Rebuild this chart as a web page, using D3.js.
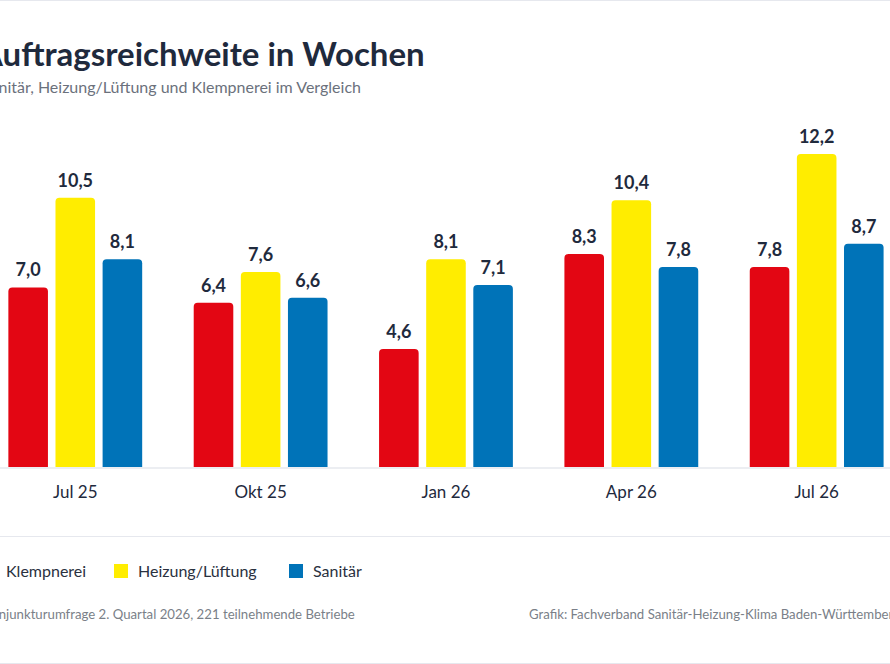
<!DOCTYPE html>
<html><head><meta charset="utf-8">
<script src="https://cdn.jsdelivr.net/npm/d3@7"></script>
<style>
html,body{margin:0;padding:0;background:#fff;overflow:hidden}
svg{display:block;font-family:Lato,"Noto Sans",sans-serif}
</style></head>
<body>
<svg id="c" width="890" height="664"></svg>
<script>
const categories = ["Jul 25","Okt 25","Jan 26","Apr 26","Jul 26"];
const seriesNames = ["Klempnerei","Heizung/Lüftung","Sanitär"];
const klempnerei = [7.0,6.4,4.6,8.3,7.8];
const heizung = [10.5,7.6,8.1,10.4,12.2];
const sanitaer = [8.1,6.6,7.1,7.8,8.7];
const seriesColors = ["#e30613","#ffed00","#0073b8"];
const title = "Auftragsreichweite in Wochen";
const subtitle = "Sanitär, Heizung/Lüftung und Klempnerei im Vergleich";
const sourceLeft = "Konjunkturumfrage 2. Quartal 2026, 221 teilnehmende Betriebe";
const sourceRight = "Grafik: Fachverband Sanitär-Heizung-Klima Baden-Württemberg";

const values = [klempnerei, heizung, sanitaer];
const svg = d3.select("#c");
const W = 890, H = 664;
const dark = "#1f2a3d";

// frame lines
[0.5, 536.5, 663.5].forEach(y => svg.append("line").attr("x1",0).attr("x2",W).attr("y1",y).attr("y2",y).attr("stroke","#e6e8ee").attr("stroke-width",1.2));

svg.append("text").attr("x",-20).attr("y",66).attr("font-size",33).attr("font-weight",700).attr("fill",dark).text(title);
svg.append("text").attr("x",-18).attr("y",93).attr("font-size",16).attr("fill","#6b717c").text(subtitle);

const x0 = d3.scaleBand().domain(categories).range([-17.4, -17.4 + 5*185.35]).paddingInner(0.278).paddingOuter(0.139);
const x1 = d3.scaleBand().domain(seriesNames).range([0, x0.bandwidth()]).paddingInner(0.16).paddingOuter(0);
const y = d3.scaleLinear().domain([0,13]).range([467, 467 - 13*25.65]);

svg.append("line").attr("x1",0).attr("x2",W).attr("y1",y(0)+1).attr("y2",y(0)+1).attr("stroke","#e6e8ee").attr("stroke-width",1.5);

function topRounded(x, yt, w, h, r){
  r = Math.min(r, h, w/2);
  return `M${x},${yt+h}V${yt+r}Q${x},${yt} ${x+r},${yt}H${x+w-r}Q${x+w},${yt} ${x+w},${yt+r}V${yt+h}Z`;
}

const data = [];
categories.forEach((c,i) => seriesNames.forEach((s,j) => data.push({c, s, j, v: values[j][i]})));

const g = svg.append("g");
g.selectAll("path.bar").data(data).join("path").attr("class","bar")
  .attr("d", d => topRounded(x0(d.c)+x1(d.s), y(d.v), x1.bandwidth(), y(0)-y(d.v), 4))
  .attr("fill", d => seriesColors[d.j]);

g.selectAll("text.val").data(data).join("text").attr("class","val")
  .attr("x", d => x0(d.c)+x1(d.s)+x1.bandwidth()/2)
  .attr("y", d => y(d.v)-11)
  .attr("text-anchor","middle").attr("font-size",18).attr("font-weight",700).attr("fill",dark)
  .text(d => d3.format(".1f")(d.v).replace(".",","));

const xAxis = svg.append("g").attr("transform",`translate(0,${y(0)})`).call(d3.axisBottom(x0).tickSize(0).tickPadding(0));
xAxis.select(".domain").remove();
xAxis.selectAll("text").attr("y",31).attr("dy",0).attr("font-size",17).attr("fill",dark).attr("font-family","Lato,'Noto Sans',sans-serif");

// legend
const legX = [-18, 114, 289];
const leg = svg.append("g");
seriesNames.forEach((s,j) => {
  leg.append("rect").attr("x",legX[j]).attr("y",564).attr("width",14).attr("height",14).attr("fill",seriesColors[j]);
  leg.append("text").attr("x",legX[j]+24).attr("y",576.5).attr("font-size",16).attr("fill","#2a3140").text(s);
});

svg.append("text").attr("x",-17).attr("y",619).attr("font-size",13.2).attr("fill","#7a7f88").text(sourceLeft);
svg.append("text").attr("x",529).attr("y",619).attr("font-size",13.2).attr("fill","#7a7f88").text(sourceRight);
</script>
</body></html>
